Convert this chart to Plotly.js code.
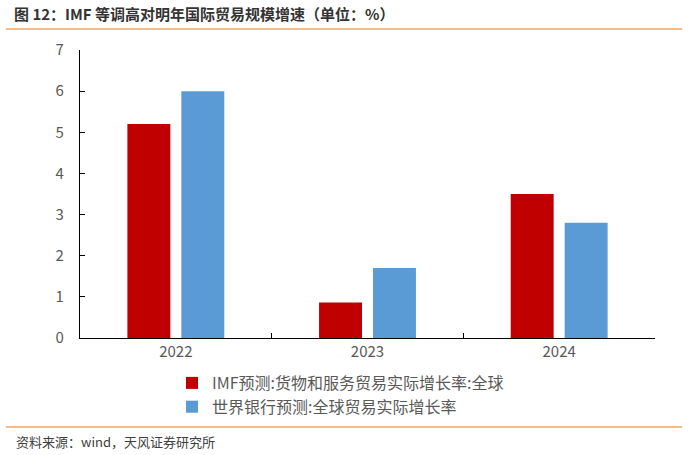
<!DOCTYPE html>
<html>
<head>
<meta charset="utf-8">
<script src="https://cdn.plot.ly/plotly-3.0.1.min.js"></script>
<style>html,body{margin:0;padding:0;background:#fff;}#chart{width:700px;height:455px;}</style>
</head>
<body>
<div id="chart"></div>
<script>
const categories = ["2022", "2023", "2024"];
const imfValues = [5.2, 0.86, 3.5];
const wbValues = [6.0, 1.7, 2.8];
const seriesNames = ["IMF预测:货物和服务贸易实际增长率:全球", "世界银行预测:全球贸易实际增长率"];
const yTicks = [0, 1, 2, 3, 4, 5, 6, 7];
const titleText = "图 12：IMF 等调高对明年国际贸易规模增速（单位：%）";
const sourceText = "资料来源：wind，天风证券研究所";

const font = "'Noto Sans CJK SC', 'Noto Sans', sans-serif";

const data = [
  {type: "bar", x: categories, y: imfValues, name: seriesNames[0],
   marker: {color: "#C00000"}, legendgroup: "a"},
  {type: "bar", x: categories, y: wbValues, name: seriesNames[1],
   marker: {color: "#5B9BD5"}, legendgroup: "b"}
];

const layout = {
  width: 700, height: 455,
  margin: {l: 80, r: 45, t: 50, b: 117},
  paper_bgcolor: "#fff", plot_bgcolor: "#fff",
  font: {family: font, color: "#595959", size: 15},
  barmode: "group", bargap: 0.437, bargroupgap: 0.204,
  title: {text: titleText, x: 14/700, xanchor: "left", xref: "container",
          y: 1 - 15/455, yanchor: "middle", yref: "container",
          font: {family: font, size: 15, color: "#333333", weight: "bold"}},
  xaxis: {type: "category", showline: true, linecolor: "#000", linewidth: 1.2,
          ticks: "inside", tickson: "boundaries", ticklen: 5, tickcolor: "#000",
          showgrid: false, zeroline: false, tickfont: {size: 15, color: "#595959"}},
  yaxis: {range: [0, 7], tickvals: yTicks, showline: true, linecolor: "#000", linewidth: 1.2,
          ticks: "inside", ticklen: 5, tickcolor: "#000", showgrid: false, zeroline: false,
          tickfont: {size: 15, color: "#595959"}, ticklabelstandoff: 12},
  showlegend: true,
  legend: {orientation: "v", x: (172-80)/575, xanchor: "left", y: (338-366)/288, yanchor: "top",
           font: {size: 16, color: "#595959"}, tracegroupgap: 4, bgcolor: "rgba(0,0,0,0)",
           traceorder: "normal"},
  shapes: [
    {type: "line", xref: "paper", yref: "paper", x0: (6-80)/575, x1: (682-80)/575,
     y0: (338-29)/288, y1: (338-29)/288, line: {color: "#F4A460", width: 1.5}},
    {type: "line", xref: "paper", yref: "paper", x0: (6-80)/575, x1: (682-80)/575,
     y0: (338-427)/288, y1: (338-427)/288, line: {color: "#F4A460", width: 1.5}}
  ],
  annotations: [
    {text: sourceText, xref: "paper", yref: "paper", x: (14-80)/575, y: (338-441)/288,
     xanchor: "left", yanchor: "middle", showarrow: false,
     font: {family: font, size: 13, color: "#404040"}}
  ]
};

Plotly.newPlot("chart", data, layout, {displayModeBar: false, staticPlot: true});
</script>
</body>
</html>
